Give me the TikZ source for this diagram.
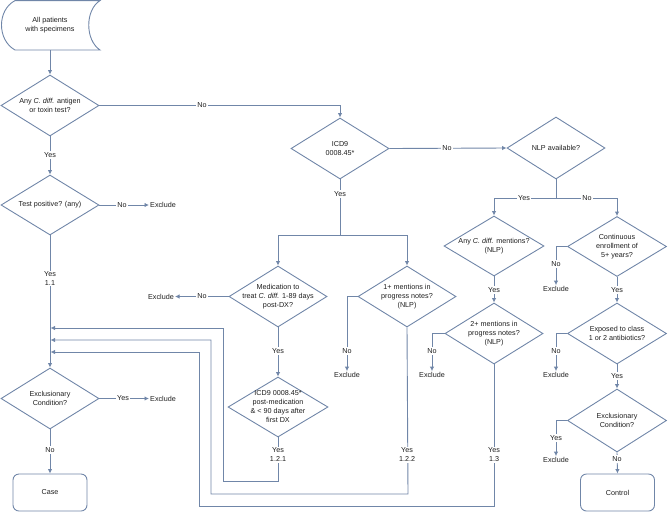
\documentclass[tikz,border=0pt]{standalone}
\usepackage{fontspec}
\setmainfont{Liberation Sans}
\usetikzlibrary{shapes.geometric,arrows.meta}
\definecolor{ln}{RGB}{112,134,168}
\definecolor{tx}{RGB}{30,30,30}
\begin{document}
\begin{tikzpicture}[x=1pt,y=-1pt,
  every node/.style={font=\fontsize{7.2}{9}\selectfont, text=tx},
  conn/.style={draw=ln, line width=0.9pt},
  arr/.style={conn, -{Latex[length=4.5pt,width=4.5pt]}},
  dia/.style={draw=ln, line width=0.9pt, shape=diamond, inner sep=0pt, minimum width=#1},
  dia/.default=98pt,
  txt/.style={align=center, inner sep=1pt},
  lbl/.style={align=center, fill=white, inner sep=1pt},
  endbox/.style={draw=ln, line width=0.9pt, rounded corners=6pt, minimum width=74pt, minimum height=37pt, inner sep=0pt}
]
\useasboundingbox (0,0) rectangle (668,512);

% start shape
\draw[conn] (15,0.6) -- (100,0.6) .. controls (85,10) and (85,40) .. (100,50) -- (15,50)
   .. controls (-3,40) and (-3,10) .. (15,0.6) -- cycle;
\node[txt] (start) at (50,25.5) {All patients\\with specimens};
\coordinate (startb) at (50,50);

% diamonds
\node[dia, minimum height=61pt] (dA) at (50,105.5) {};
\node[txt] (dAt) at (dA) {Any \textit{C. diff.} antigen\\or toxin test?};
\node[dia, minimum height=60pt] (dB) at (50,205) {};
\node[txt] (dBt) at (dB) {Test positive? (any)};
\node[dia, minimum height=61pt] (dC) at (50,398.5) {};
\node[txt] (dCt) at (dC) {Exclusionary\\Condition?};
\node[dia, minimum height=61pt] (dI) at (340,148.5) {};
\node[txt] (dIt) at (dI) {ICD9\\0008.45*};
\node[dia, minimum height=61pt] (dM) at (278,296.5) {};
\node[txt] (dMt) at (dM) {Medication to\\treat \textit{C. diff.} 1-89 days\\post-DX?};
\node[dia=100pt, minimum height=60pt] (dP) at (278,407) {};
\node[txt] (dPt) at (dP) {ICD9 0008.45*\\post-medication\\\& < 90 days after\\first DX};
\node[dia, minimum height=61pt] (d1) at (407,296.5) {};
\node[txt] (d1t) at (d1) {1+ mentions in\\progress notes?\\(NLP)};
\node[dia, minimum height=62pt] (dN) at (556,148) {};
\node[txt] (dNt) at (dN) {NLP available?};
\node[dia=100pt, minimum height=60pt] (dY) at (494,246) {};
\node[txt] (dYt) at (dY) {Any \textit{C. diff.} mentions?\\(NLP)};
\node[dia, minimum height=61pt] (d2) at (494,333.5) {};
\node[txt] (d2t) at (d2) {2+ mentions in\\progress notes?\\(NLP)};
\node[dia=99pt, minimum height=60pt] (dE) at (617,246.5) {};
\node[txt] (dEt) at (dE) {Continuous\\enrollment of\\5+ years?};
\node[dia=99pt, minimum height=61pt] (dX) at (617,333.5) {};
\node[txt] (dXt) at (dX) {Exposed to class\\1 or 2 antibiotics?};
\node[dia=99pt, minimum height=63pt] (dZ) at (617,420.5) {};
\node[txt] (dZt) at (dZ) {Exclusionary\\Condition?};

% end boxes
\node[endbox] (case) at (50,492.5) {Case};
\node[endbox] (ctrl) at (617.5,492.5) {Control};

% exclude nodes
\node[txt, anchor=west] (exB) at (149,205) {Exclude};
\node[txt, anchor=west] (exC) at (149,398.5) {Exclude};
\node[txt, anchor=east] (exM) at (175,296.5) {Exclude};
\node[txt] (ex1) at (347,375) {Exclude};
\node[txt] (ex2) at (432,375) {Exclude};
\node[txt] (exE) at (556,289) {Exclude};
\node[txt] (exX) at (556,375) {Exclude};
\node[txt] (exZ) at (556,460) {Exclude};

% left column
\draw[arr] (startb) -- (dA.north);
\draw[arr] (dA.south) -- (dB.north);
\node[lbl] (yA) at (50,155) {Yes};
\draw[arr] (dB.east) -- (exB.west);
\node[lbl] (nB) at (122,205) {No};
\draw[arr] (dB.south) -- (dC.north);
\node[lbl] (yB) at (50,278.5) {Yes\\1.1};
\draw[arr] (dC.east) -- (exC.west);
\node[lbl] (yC) at (123,398.5) {Yes};
\draw[arr] (dC.south) -- (case.north);
\node[lbl] (nC) at (50,450) {No};

% top No to ICD9
\draw[arr] (dA.east) -| (dI.north);
\node[lbl] (nA) at (202,105.5) {No};

% ICD9 branches
\coordinate (iy) at (340,235);
\draw[conn] (dI.south) -- (iy);
\node[lbl] (yI) at (340,194) {Yes};
\draw[arr] (iy) -| (dM.north);
\draw[arr] (iy) -| (d1.north);
\draw[arr] (dI.east) -- (dN.west);
\node[lbl] (nI) at (447,148.5) {No};

% medication
\draw[arr] (dM.west) -- (exM.east);
\node[lbl] (nM) at (202,296.5) {No};
\draw[arr] (dM.south) -- (dP.north);
\node[lbl] (yM) at (278,351) {Yes};

% 1+ mentions
\draw[arr] (d1.west) -| (ex1.north);
\node[lbl] (n1) at (347,351) {No};

% NLP available branches
\coordinate (ny) at (556,198);
\draw[conn] (dN.south) -- (ny);
\draw[arr] (ny) -| (dY.north);
\draw[arr] (ny) -| (dE.north);
\node[lbl] (yN) at (524,198) {Yes};
\node[lbl] (nN) at (587,198) {No};

% any mentions
\draw[arr] (dY.south) -- (d2.north);
\node[lbl] (yY) at (494,290) {Yes};
\draw[arr] (d2.west) -| (ex2.north);
\node[lbl] (n2) at (432,351) {No};

% continuous enrollment column
\draw[arr] (dE.west) -| (exE.north);
\node[lbl] (nE) at (556,264) {No};
\draw[arr] (dE.south) -- (dX.north);
\node[lbl] (yE) at (617,290) {Yes};
\draw[arr] (dX.west) -| (exX.north);
\node[lbl] (nX) at (556,351) {No};
\draw[arr] (dX.south) -- (dZ.north);
\node[lbl] (yX) at (617,376) {Yes};
\draw[arr] (dZ.west) -| (exZ.north);
\node[lbl] (yZ) at (556,438) {Yes};
\draw[arr] (dZ.south) -- (ctrl.north);
\node[lbl] (nZ) at (617,459) {No};

% return loops
\coordinate (r1) at (50.5,328);
\coordinate (r2) at (50.5,340);
\coordinate (r3) at (50.5,352);
\draw[arr] (dP.south) -- (278,481) -- (223,481) -- (223,328) -- (r1);
\draw[arr] (d1.south) -- (408,494) -- (211,494) -- (211,340) -- (r2);
\draw[arr] (d2.south) -- (494,506) -- (199,506) -- (199,352) -- (r3);
\node[lbl] (yP) at (278,455) {Yes\\1.2.1};
\node[lbl] (y1) at (407,455) {Yes\\1.2.2};
\node[lbl] (y2) at (494,455) {Yes\\1.3};
\end{tikzpicture}
\end{document}
